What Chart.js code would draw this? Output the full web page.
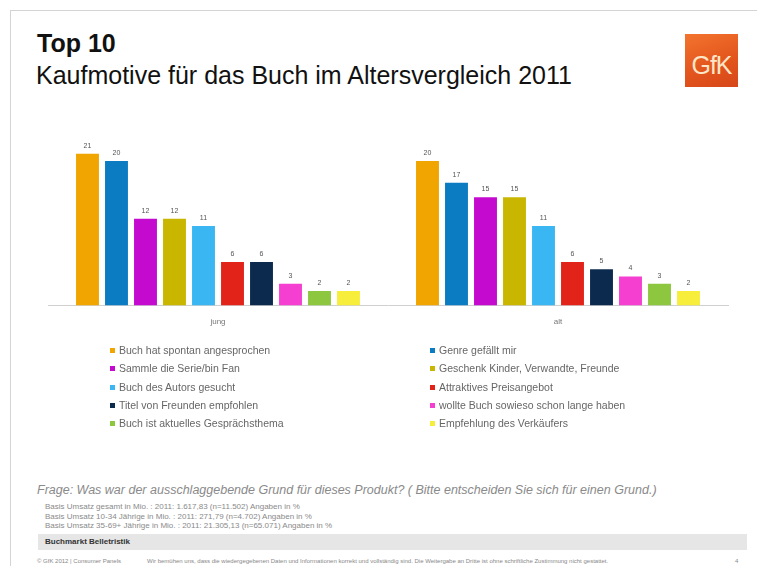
<!DOCTYPE html>
<html lang="de">
<head>
<meta charset="utf-8">
<title>Kaufmotive für das Buch im Altersvergleich 2011</title>
<script src="https://cdn.jsdelivr.net/npm/chart.js@4/dist/chart.umd.min.js"></script>
<style>
    html, body { margin: 0; padding: 0; background: #fff; }
    body { width: 757px; height: 566px; position: relative; overflow: hidden; font-family: "Liberation Sans", Arial, sans-serif; }
    .frame { position: absolute; left: 10px; top: 10px; width: 800px; height: 600px; border-top: 1px solid #d4d4d4; border-left: 1px solid #d4d4d4; }
    .t1 { position: absolute; left: 37px; top: 29px; font-size: 25px; font-weight: bold; color: #111; line-height: 28px; }
    .t2 { position: absolute; left: 36px; top: 61px; font-size: 25px; color: #111; line-height: 28px; }
    .logo { position: absolute; left: 685px; top: 34px; width: 53px; height: 53px;
            background: linear-gradient(160deg, #f3742e 0%, #e2541c 60%, #d6461a 100%);
            color: #fce6c8; font-size: 25px; text-align: center; line-height: 62px; letter-spacing: -1px; }
    #chart { position: absolute; left: 0; top: 110px; }
    #legend { position: absolute; left: 110px; top: 341px; }
    .item { position: absolute; white-space: nowrap; font-size: 10.5px; color: #666; line-height: 18px; }
    .item i { display: inline-block; width: 5px; height: 5px; margin-right: 4px; vertical-align: 1px; }
    .q { position: absolute; left: 37px; top: 483px; font-size: 12.5px; font-style: italic; color: #8a8a8a; white-space: nowrap; }
    .basis { position: absolute; left: 45px; top: 502px; font-size: 8px; line-height: 9.7px; color: #8a8a8a; white-space: nowrap; }
    .band { position: absolute; left: 38px; top: 534px; width: 709px; height: 16px; background: #e6e6e6; }
    .band span { position: absolute; left: 7px; top: 3px; font-size: 8px; font-weight: bold; color: #333; }
    .foot { position: absolute; top: 558px; font-size: 6px; color: #888; white-space: nowrap; }
</style>
</head>
<body>
<div class="frame"></div>
<div class="t1">Top 10</div>
<div class="t2">Kaufmotive für das Buch im Altersvergleich 2011</div>
<div class="logo">GfK</div>

<canvas id="chart" width="757" height="232"></canvas>
<div id="legend"></div>

<div class="q">Frage: Was war der ausschlaggebende Grund für dieses Produkt? ( Bitte entscheiden Sie sich für einen Grund.)</div>
<div class="basis">
    Basis Umsatz gesamt in Mio. : 2011: 1.617,83 (n=11.502) Angaben in %<br>
    Basis Umsatz 10-34 Jährige in Mio. : 2011: 271,79 (n=4.702) Angaben in %<br>
    Basis Umsatz 35-69+ Jährige in Mio. : 2011: 21.305,13 (n=65.071) Angaben in %
</div>
<div class="band"><span>Buchmarkt Belletristik</span></div>
<div class="foot" style="left:37px">© GfK 2012 | Consumer Panels</div>
<div class="foot" style="left:147px">Wir bemühen uns, dass die wiedergegebenen Daten und Informationen korrekt und vollständig sind. Die Weitergabe an Dritte ist ohne schriftliche Zustimmung nicht gestattet.</div>
<div class="foot" style="left:735px">4</div>

<script>
// Altersgruppen
const groups = ["jung", "alt"];

// Kaufmotive (Reihenfolge wie Balken)
const motives = [
    "Buch hat spontan angesprochen",
    "Genre gefällt mir",
    "Sammle die Serie/bin Fan",
    "Geschenk Kinder, Verwandte, Freunde",
    "Buch des Autors gesucht",
    "Attraktives Preisangebot",
    "Titel von Freunden empfohlen",
    "wollte Buch sowieso schon lange haben",
    "Buch ist aktuelles Gesprächsthema",
    "Empfehlung des Verkäufers"
];

const motiveColors = [
    "#f0a500", "#0b7cc1", "#c40acf", "#c9b600", "#3ab6f2",
    "#e2231a", "#0c2a4e", "#f43fd0", "#8dc63f", "#f6ee3a"
];

// Angaben in %
const jungValues = [21, 20, 12, 12, 11, 6, 6, 3, 2, 2];
const altValues  = [20, 17, 15, 15, 11, 6, 5, 4, 3, 2];

const datasets = motives.map((m, i) => ({
    label: m,
    data: [jungValues[i], altValues[i]],
    backgroundColor: motiveColors[i],
    categoryPercentage: 0.853,
    barPercentage: 0.79
}));

// Werte über den Balken
const valueLabels = {
    id: "valueLabels",
    afterDatasetsDraw(chart) {
        const ctx = chart.ctx;
        ctx.save();
        ctx.font = "7px 'Liberation Sans', Arial, sans-serif";
        ctx.fillStyle = "#555";
        ctx.textAlign = "center";
        ctx.textBaseline = "middle";
        chart.data.datasets.forEach((ds, i) => {
            chart.getDatasetMeta(i).data.forEach((bar, j) => {
                ctx.fillText(ds.data[j], bar.x, bar.y - 8);
            });
        });
        ctx.restore();
    }
};

new Chart(document.getElementById("chart"), {
    type: "bar",
    data: { labels: groups, datasets: datasets },
    options: {
        responsive: false,
        animation: false,
        layout: { padding: { left: 48, right: 29, top: 15, bottom: 3 } },
        plugins: { legend: { display: false }, tooltip: { enabled: false } },
        scales: {
            x: {
                grid: { display: false, drawTicks: false },
                border: { color: "#d0d0d0" },
                ticks: {
                    padding: 12,
                    color: "#777",
                    font: { size: 8, family: "'Liberation Sans', Arial, sans-serif" }
                }
            },
            y: { display: false, min: 0, max: 25 }
        }
    },
    plugins: [valueLabels]
});

// Legende in zwei Spalten
const legend = document.getElementById("legend");
motives.forEach((m, i) => {
    const col = i % 2, row = Math.floor(i / 2);
    const el = document.createElement("div");
    el.className = "item";
    el.style.left = (col * 320) + "px";
    el.style.top = (row * 18.3) + "px";
    el.innerHTML = `<i style="background:${motiveColors[i]}"></i>${m}`;
    legend.appendChild(el);
});
</script>
</body>
</html>
